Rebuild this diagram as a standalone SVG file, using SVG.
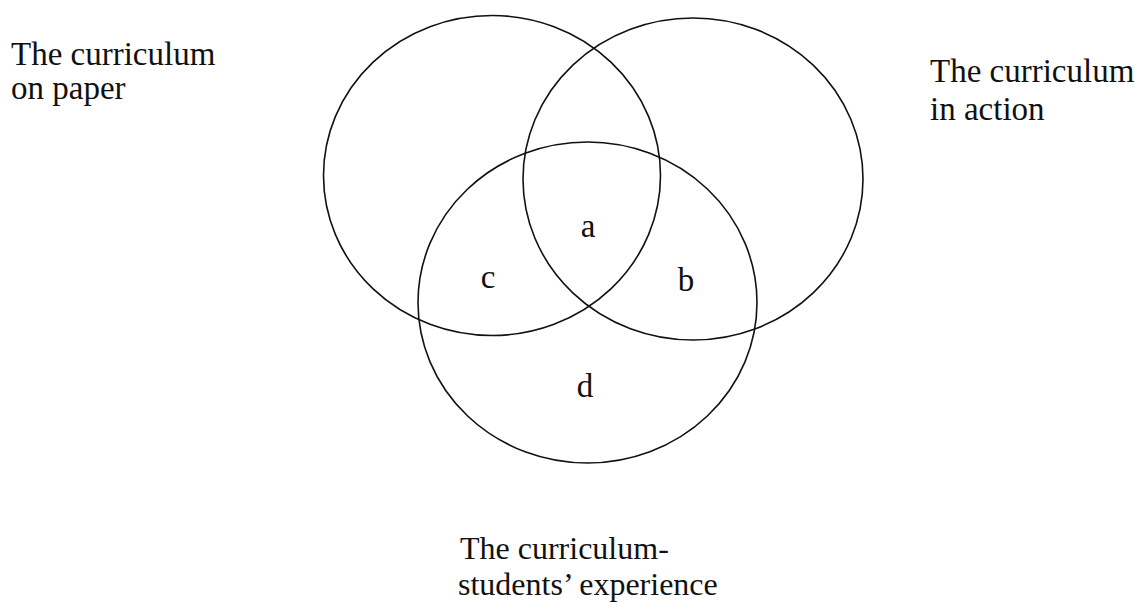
<svg xmlns="http://www.w3.org/2000/svg" width="1140" height="602" viewBox="0 0 1140 602">
<style>
.c{fill:none;stroke:#111;stroke-width:1.6}
.t{font-family:"Liberation Serif","Times New Roman",serif;font-size:33px;fill:#111}
.s{font-family:"Liberation Serif","Times New Roman",serif;font-size:32px;fill:#111}
.l{font-family:"Liberation Serif","Times New Roman",serif;font-size:33px;fill:#111;text-anchor:middle}
</style>
<rect width="1140" height="602" fill="#fff"/>
<g id="circle-paper"><ellipse class="c" cx="492" cy="175.5" rx="168.5" ry="160"/></g>
<g id="circle-action"><ellipse class="c" cx="693" cy="179" rx="170" ry="161"/></g>
<g id="circle-students"><ellipse class="c" cx="587.5" cy="302.5" rx="169.5" ry="160.5"/></g>
<g id="label-paper"><text class="t" x="11" y="65">The curriculum</text><text class="t" x="11" y="99">on paper</text></g>
<g id="label-action"><text class="t" x="930" y="82">The curriculum</text><text class="t" x="930" y="120">in action</text></g>
<g id="label-students"><text class="s" x="460" y="559">The curriculum-</text><text class="s" x="458" y="595">students’ experience</text></g>
<g id="regions">
<text class="l" x="588" y="237">a</text>
<text class="l" x="686" y="291">b</text>
<text class="l" x="488" y="288">c</text>
<text class="l" x="585" y="397">d</text>
</g>
<g id="connectors"/>
</svg>
